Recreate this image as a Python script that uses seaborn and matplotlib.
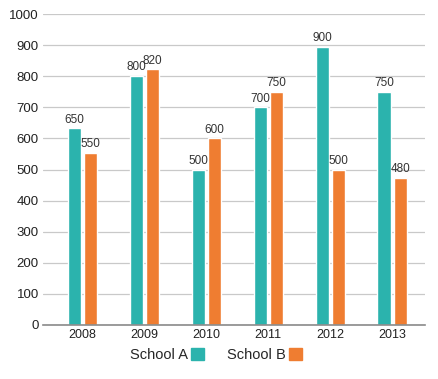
import pandas as pd
import seaborn as sns
import matplotlib.pyplot as plt
from matplotlib.patches import Patch

# values
years = ["2008", "2009", "2010", "2011", "2012", "2013"]
school_a = [632, 800, 500, 700, 895, 750]
school_b = [553, 822, 600, 750, 500, 473]
# printed data labels
labels_a = ["650", "800", "500", "700", "900", "750"]
labels_b = ["550", "820", "600", "750", "500", "480"]

teal = "#2bb3ad"
orange = "#ef7d31"

df = pd.DataFrame({
    "year": years * 2,
    "value": school_a + school_b,
    "school": ["School A"] * len(years) + ["School B"] * len(years),
})

sns.set_style("white")
plt.rcParams["font.family"] = ["Liberation Sans", "DejaVu Sans"]

fig = plt.figure(figsize=(4.38, 3.79), dpi=100)
ax = fig.add_axes([0.098, 0.1425, 0.872, 0.8205])

sns.barplot(data=df, x="year", y="value", hue="school", palette=[teal, orange],
            width=0.52, gap=0.19, saturation=1, legend=False, ax=ax)

# data labels above the bars
for cont, labs in zip(ax.containers, [labels_a, labels_b]):
    ax.bar_label(cont, labels=labs, padding=2, fontsize=8.5, color="#333333")

ax.set_ylim(0, 1000)
ax.set_xlim(-0.64, 5.53)
ax.set_yticks(range(0, 1001, 100))
ax.yaxis.grid(True, color="#c9c9c9", linewidth=0.9)
ax.set_axisbelow(True)
for s in ["left", "right", "top"]:
    ax.spines[s].set_visible(False)
ax.spines["bottom"].set_color("#8a8a8a")
ax.spines["bottom"].set_linewidth(1.2)
ax.tick_params(axis="y", length=0, pad=3, labelsize=9.5, labelcolor="#222222")
ax.tick_params(axis="x", length=0, pad=3, labelsize=9, labelcolor="#222222")
ax.set_xlabel("")
ax.set_ylabel("")

handles = [Patch(color=teal), Patch(color=orange)]
fig.legend(handles, ["School A", "School B"], loc="center", bbox_to_anchor=(0.493, 0.063),
           ncol=2, frameon=False, markerfirst=False, fontsize=10.5,
           handlelength=0.9, handleheight=0.9, handletextpad=0.2, columnspacing=1.6)

fig.savefig("out.png", dpi=100)
